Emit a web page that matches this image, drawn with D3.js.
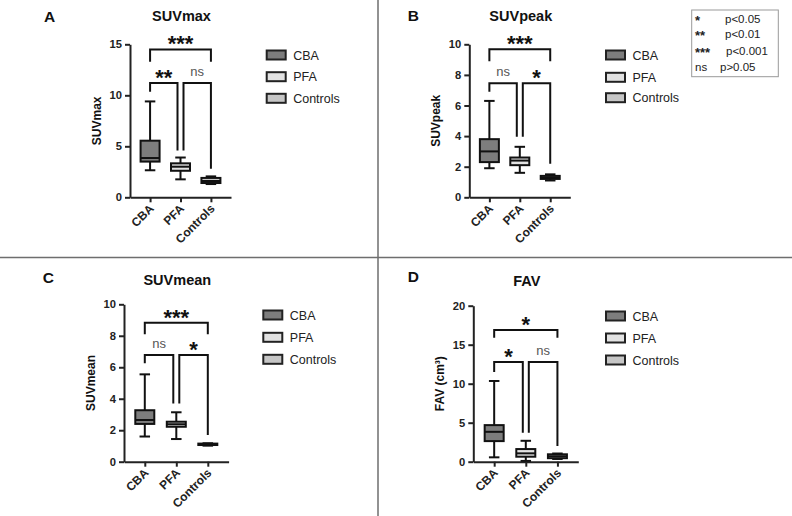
<!DOCTYPE html>
<html lang="en">
<head>
    <meta charset="UTF-8">
    <title>SUV / FAV box plots</title>
    <script src="https://d3js.org/d3.v7.min.js"></script>
    <style>
        body { margin: 0; background: #fff; }
        svg { display: block; font-family: "Liberation Sans", Arial, sans-serif; }
        .box, .whisker, .bracket { stroke: #111; stroke-width: 2px; }
        .axis path, .axis line { stroke: #222; stroke-width: 2px; }
        .axis text { font-weight: bold; fill: #222; }
    </style>
</head>
<body>
    <svg id="svg" width="792" height="516"></svg>
    <script>
        // data
        const categories = ["CBA", "PFA", "Controls"];
        const panelLetters = ["A", "B", "C", "D"];
        const panelTitles = ["SUVmax", "SUVpeak", "SUVmean", "FAV"];
        const yTitles = ["SUVmax", "SUVpeak", "SUVmean", "FAV (cm³)"];
        const yMax = [15, 10, 10, 20];
        const yTicks = [[0, 5, 10, 15], [0, 2, 4, 6, 8, 10], [0, 2, 4, 6, 8, 10], [0, 5, 10, 15, 20]];

        // [min, q1, median, q3, max] per category
        const suvmaxBoxes = [[2.65, 3.5, 3.85, 5.55, 9.4], [1.76, 2.6, 3.0, 3.33, 3.9], [1.3, 1.4, 1.6, 1.9, 2.05]];
        const suvpeakBoxes = [[1.9, 2.3, 3.0, 3.8, 6.3], [1.6, 2.1, 2.4, 2.6, 3.3], [1.1, 1.2, 1.3, 1.4, 1.5]];
        const suvmeanBoxes = [[1.6, 2.4, 2.65, 3.27, 5.55], [1.44, 2.22, 2.38, 2.54, 3.14], [1.02, 1.06, 1.1, 1.15, 1.17]];
        const favBoxes = [[0.56, 2.64, 3.83, 4.69, 10.35], [0.1, 0.64, 1.07, 1.62, 2.68], [0.35, 0.45, 0.7, 0.95, 1.05]];

        // comparisons: [from, to, bar height, left leg end, right leg end, label]
        const suvmaxSig = [[0, 2, 14.5, 13.3, 13.3, "***"], [0, 1, 11.2, 10.35, 4.6, "**"], [1, 2, 11.2, 4.6, 2.8, "ns"]];
        const suvpeakSig = [[0, 2, 9.67, 8.9, 8.9, "***"], [0, 1, 7.45, 6.9, 3.95, "ns"], [1, 2, 7.45, 3.95, 2.2, "*"]];
        const suvmeanSig = [[0, 2, 8.83, 8.1, 8.1, "***"], [0, 1, 6.78, 6.25, 3.7, "ns"], [1, 2, 6.78, 3.7, 1.7, "*"]];
        const favSig = [[0, 2, 16.9, 15.9, 15.9, "*"], [0, 1, 12.77, 11.5, 3.7, "*"], [1, 2, 12.77, 3.7, 2.0, "ns"]];

        const keySymbols = ["*", "**", "***", "ns"];
        const keyTexts = ["p<0.05", "p<0.01", "p<0.001", "p>0.05"];

        const boxSets = [suvmaxBoxes, suvpeakBoxes, suvmeanBoxes, favBoxes];
        const sigSets = [suvmaxSig, suvpeakSig, suvmeanSig, favSig];
        const fills = ["#7d7d7d", "#e2e2e2", "#c6c6c6"];

        // layout of the four panels
        const layout = [
            {x0: 130, top: 44.3, bottom: 197.3, w: 101, legX: 266.7, legY: [55, 76.7, 98.3], letterX: 44, letterY: 22, titleY: 21},
            {x0: 469.3, top: 44.3, bottom: 197.3, w: 101, legX: 606, legY: [55, 77.3, 97.7], letterX: 407.7, letterY: 21, titleY: 21},
            {x0: 124, top: 304.3, bottom: 461.7, w: 104.6, legX: 263.3, legY: [315, 337.3, 359.3], letterX: 42.7, letterY: 283, titleY: 285},
            {x0: 473.3, top: 305.7, bottom: 461.7, w: 105, legX: 606, legY: [316, 338, 360], letterX: 407.7, letterY: 282, titleY: 286}
        ];

        const svg = d3.select("#svg");

        // panel dividers
        svg.append("line").attr("x1", 378).attr("x2", 378).attr("y1", 0).attr("y2", 516)
            .attr("stroke", "#6e6e6e").attr("stroke-width", 1.5);
        svg.append("line").attr("x1", 0).attr("x2", 792).attr("y1", 257.5).attr("y2", 257.5)
            .attr("stroke", "#6e6e6e").attr("stroke-width", 1.5);

        layout.forEach((L, p) => {
            const g = svg.append("g");
            const x = d3.scalePoint().domain(categories).range([L.x0, L.x0 + L.w]).padding(0.66);
            const y = d3.scaleLinear().domain([0, yMax[p]]).range([L.bottom, L.top]);

            // letter and title
            g.append("text").attr("x", L.letterX).attr("y", L.letterY)
                .attr("font-size", 15.5).attr("font-weight", "bold").attr("fill", "#111").text(panelLetters[p]);
            g.append("text").attr("x", L.x0 + L.w / 2 + 1).attr("y", L.titleY)
                .attr("text-anchor", "middle").attr("font-size", 14.5).attr("font-weight", "bold")
                .attr("fill", "#111").text(panelTitles[p]);

            // axes
            const ya = g.append("g").attr("class", "axis")
                .attr("transform", `translate(${L.x0},0)`)
                .call(d3.axisLeft(y).tickValues(yTicks[p]).tickSize(5).tickSizeOuter(0).tickPadding(3));
            ya.selectAll("text").attr("font-size", 11.2);

            const xa = g.append("g").attr("class", "axis")
                .attr("transform", `translate(0,${L.bottom})`)
                .call(d3.axisBottom(x).tickSize(5).tickSizeOuter(0));
            xa.selectAll("text")
                .attr("x", 0).attr("y", 0).attr("dy", 0)
                .attr("transform", "translate(4,12) rotate(-45)")
                .attr("text-anchor", "end").attr("font-size", 12);

            g.append("text")
                .attr("transform", `translate(${L.x0 - 29},${(L.top + L.bottom) / 2}) rotate(-90)`)
                .attr("text-anchor", "middle").attr("font-size", 12).attr("font-weight", "bold")
                .attr("fill", "#111").text(yTitles[p]);

            // boxes
            const bw = 19, cw = 10.5;
            boxSets[p].forEach((b, i) => {
                const cx = x(categories[i]);
                g.append("line").attr("class", "whisker")
                    .attr("x1", cx).attr("x2", cx).attr("y1", y(b[0])).attr("y2", y(b[4]));
                [b[0], b[4]].forEach(v => {
                    g.append("line").attr("class", "whisker")
                        .attr("x1", cx - cw / 2).attr("x2", cx + cw / 2).attr("y1", y(v)).attr("y2", y(v));
                });
                g.append("rect").attr("class", "box")
                    .attr("x", cx - bw / 2).attr("width", bw)
                    .attr("y", y(b[3])).attr("height", y(b[1]) - y(b[3]))
                    .attr("fill", fills[i]);
                g.append("line").attr("class", "box")
                    .attr("x1", cx - bw / 2).attr("x2", cx + bw / 2).attr("y1", y(b[2])).attr("y2", y(b[2]));
            });

            // significance brackets
            sigSets[p].forEach(s => {
                const top = s[1] - s[0] === 2;
                let xa1 = x(categories[s[0]]), xa2 = x(categories[s[1]]);
                if (!top) {
                    if (s[0] === 1) xa1 += 3;
                    if (s[1] === 1) xa2 -= 3;
                }
                const yb = y(s[2]);
                g.append("path").attr("class", "bracket").attr("fill", "none")
                    .attr("d", `M${xa1},${y(s[3])}V${yb}H${xa2}V${y(s[4])}`);
                const mx = (xa1 + xa2) / 2;
                if (s[5] === "ns") {
                    g.append("text").attr("x", mx).attr("y", yb - 7)
                        .attr("text-anchor", "middle").attr("font-size", 13).attr("fill", "#555").text("ns");
                } else {
                    g.append("text").attr("x", mx).attr("y", yb + 2)
                        .attr("text-anchor", "middle").attr("font-size", 22).attr("font-weight", "bold")
                        .attr("fill", "#111").text(s[5]);
                }
            });

            // legend
            categories.forEach((c, i) => {
                g.append("rect").attr("x", L.legX).attr("y", L.legY[i] - 4.5)
                    .attr("width", 19).attr("height", 9)
                    .attr("fill", fills[i]).attr("stroke", "#222").attr("stroke-width", 2);
                g.append("text").attr("x", L.legX + 26.5).attr("y", L.legY[i] + 4.5)
                    .attr("font-size", 12.5).attr("fill", "#222").text(c);
            });
        });

        // p-value key
        svg.append("rect").attr("x", 691.7).attr("y", 10).attr("width", 86.6).attr("height", 66.7)
            .attr("fill", "#fff").attr("stroke", "#999").attr("stroke-width", 1);
        const keyY = [22.5, 38, 54.5, 71];
        const keyX = [725, 725, 726, 720];
        keySymbols.forEach((s, i) => {
            svg.append("text").attr("x", 695).attr("y", keyY[i] + (s === "ns" ? 0 : 2))
                .attr("font-size", s === "ns" ? 11.5 : 13).attr("font-weight", s === "ns" ? "normal" : "bold")
                .attr("fill", "#222").text(s);
            svg.append("text").attr("x", keyX[i]).attr("y", keyY[i])
                .attr("font-size", 11.5).attr("fill", "#222").text(keyTexts[i]);
        });
    </script>
</body>
</html>
